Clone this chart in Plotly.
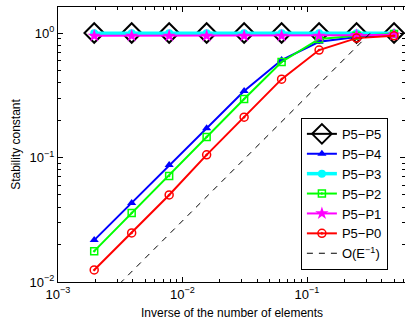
import numpy as np
import plotly.graph_objects as go

# Data: inverse of the number of elements
inv_elems = [1/512, 1/256, 1/128, 1/64, 1/32, 1/16, 1/8, 1/4, 1/2]

p5_p5 = [1.0, 1.0, 1.0, 1.0, 1.0, 1.0, 1.0, 1.0, 1.0]
p5_p4 = [0.0217, 0.0431, 0.0871, 0.172, 0.342, 0.606, 0.85, 0.93, 0.97]
p5_p3 = [0.995, 0.995, 0.995, 0.995, 0.995, 0.995, 0.995, 0.995, 0.995]
p5_p2 = [0.0177, 0.0358, 0.071, 0.146, 0.295, 0.585, 0.895, 0.95, 0.98]
p5_p1 = [0.95, 0.95, 0.95, 0.95, 0.95, 0.95, 0.95, 0.96, 0.97]
p5_p0 = [0.0125, 0.0248, 0.050, 0.105, 0.211, 0.426, 0.73, 0.91, 0.95]

# Reference slope O(E^-1)
ref_x = [1/512, 0.33]
ref_c = 3.1
ref_y = [ref_c * v for v in ref_x]

y_tickvals = [0.01, 0.1, 1]
y_ticktext = ["10<sup>\u22122</sup>", "10<sup>\u22121</sup>", "10<sup>0</sup>"]
x_tickvals = [0.001, 0.01, 0.1]
x_ticktext = ["10<sup>\u22123</sup>", "10<sup>\u22122</sup>", "10<sup>\u22121</sup>"]
minor_mult = [2, 3, 4, 5, 6, 7, 8, 9]
x_minor = [m * d for d in [0.001, 0.01, 0.1] for m in minor_mult]
y_minor = [m * d for d in [0.01, 0.1, 1] for m in minor_mult]

x_title = "Inverse of the number of elements"
y_title = "Stability constant"

FONT = "Liberation Sans, Arial, sans-serif"

fig = go.Figure()

fig.add_trace(go.Scatter(x=inv_elems, y=p5_p5, name="P5\u2212P5", mode="lines+markers",
                         line=dict(color="black", width=2),
                         marker=dict(symbol="diamond-open", size=15, color="black",
                                     line=dict(width=2))))
fig.add_trace(go.Scatter(x=inv_elems, y=p5_p4, name="P5\u2212P4", mode="lines+markers",
                         line=dict(color="#0000ff", width=2),
                         marker=dict(symbol="triangle-up", size=8, color="#0000ff")))
fig.add_trace(go.Scatter(x=inv_elems, y=p5_p3, name="P5\u2212P3", mode="lines+markers",
                         line=dict(color="#00ffff", width=3.5),
                         marker=dict(symbol="circle", size=8, color="#00ffff")))
fig.add_trace(go.Scatter(x=inv_elems, y=p5_p2, name="P5\u2212P2", mode="lines+markers",
                         line=dict(color="#00ff00", width=2),
                         marker=dict(symbol="square-open-dot", size=7, color="#00ff00",
                                     line=dict(width=1.5))))
fig.add_trace(go.Scatter(x=inv_elems, y=p5_p1, name="P5\u2212P1", mode="lines+markers",
                         line=dict(color="#ff00ff", width=2),
                         marker=dict(symbol="star", size=10, color="#ff00ff")))
fig.add_trace(go.Scatter(x=inv_elems, y=p5_p0, name="P5\u2212P0", mode="lines+markers",
                         line=dict(color="#ff0000", width=2),
                         marker=dict(symbol="circle-open-dot", size=8, color="#ff0000",
                                     line=dict(width=1.5))))
fig.add_trace(go.Scatter(x=ref_x, y=ref_y, name="O(E<sup>\u22121</sup>)", mode="lines",
                         line=dict(color="black", width=1, dash="6px,6px")))

axis_common = dict(
    showgrid=False, zeroline=False, showline=True, linecolor="black", linewidth=1,
    mirror="allticks", ticks="inside", ticklen=5, tickcolor="black",
    tickfont=dict(family=FONT, size=13, color="black"),
)

fig.update_xaxes(type="log", range=[-3, -0.213], tickvals=x_tickvals, ticktext=x_ticktext,
                 minor=dict(ticks="inside", ticklen=3, tickcolor="black", showgrid=False,
                            tickmode="array", tickvals=x_minor),
                 **axis_common)
fig.update_yaxes(type="log", range=[-2, 0.209], tickvals=y_tickvals, ticktext=y_ticktext,
                 minor=dict(ticks="inside", ticklen=3, tickcolor="black", showgrid=False,
                            tickmode="array", tickvals=y_minor),
                 title=dict(text=y_title, standoff=6,
                            font=dict(family=FONT, size=12, color="black")),
                 ticklabelstandoff=0,
                 **axis_common)

fig.add_annotation(text=x_title, xref="paper", yref="paper", x=0.5, y=-0.112,
                   xanchor="center", yanchor="middle", showarrow=False,
                   font=dict(family=FONT, size=12, color="black"))

fig.update_layout(
    width=405, height=320,
    margin=dict(l=58, r=0, t=7, b=38),
    paper_bgcolor="white", plot_bgcolor="white",
    font=dict(family=FONT, size=13, color="black"),
    legend=dict(x=0.70, y=0.044, xanchor="left", yanchor="bottom",
                bordercolor="black", borderwidth=1, bgcolor="white",
                font=dict(family=FONT, size=13), itemwidth=30, tracegroupgap=0),
    showlegend=True,
)

fig.write_html("out.html", config={"displayModeBar": False},
               post_script="document.body.style.margin='0';document.body.style.overflow='hidden';")
